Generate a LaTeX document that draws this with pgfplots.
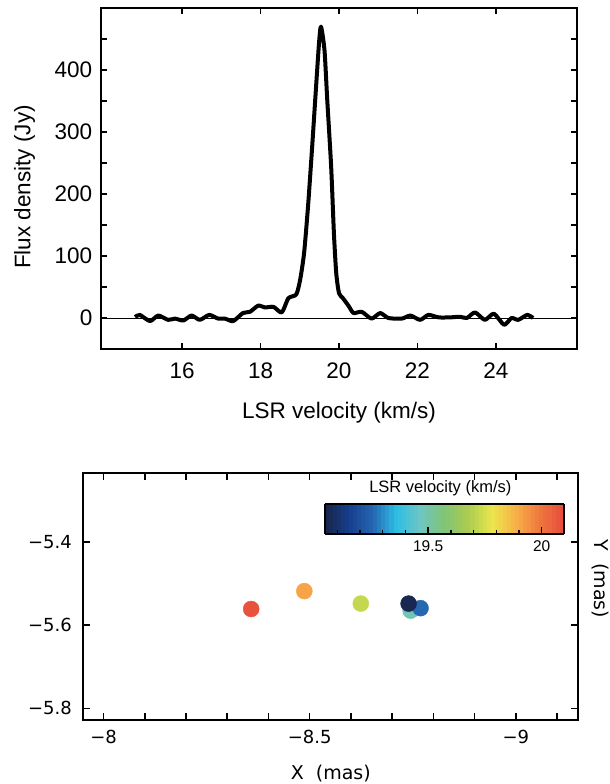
\documentclass[border=0pt]{standalone}
\usepackage{fontspec}
\setmainfont{Liberation Sans}
\newfontfamily\dejavu{DejaVu Sans}
\usepackage{pgfplots}
\pgfplotsset{compat=1.18}

\pgfplotsset{
  /pgf/number format/assume math mode=true,
  colormap={lsr}{rgb255=(24,36,72) rgb255=(22,62,140) rgb255=(36,100,176)
    rgb255=(46,190,230) rgb255=(108,198,196) rgb255=(128,196,120)
    rgb255=(170,204,80) rgb255=(236,230,76) rgb255=(248,176,72)
    rgb255=(240,120,62) rgb255=(232,74,60)},
}

% spectrum: LSR velocity (km/s), flux density (Jy)
\pgfplotstableread{
v f
14.80 1.6
14.92 5
15.18 -5
15.39 4
15.64 -3
15.82 -1
16.03 -4
16.24 4
16.45 -3
16.69 5
16.92 -1
17.09 -1
17.30 -5
17.55 8
17.73 10
17.94 20
18.11 17
18.33 18
18.54 9
18.71 32
18.91 38
19.01 62
19.11 105
19.21 180
19.31 271
19.41 368
19.49 443
19.54 470
19.63 432
19.70 352
19.80 244
19.87 137
19.93 72
20.00 40
20.10 32
20.25 19
20.37 8
20.58 10
20.83 -1
21.05 8
21.26 0
21.60 -1
21.82 4
22.07 -3
22.28 5
22.54 1
22.83 1
23.09 2
23.26 0
23.47 9
23.72 -3
23.95 7
24.21 -11
24.40 0
24.57 -3
24.80 5
24.95 0
}\spectrum

% spots: X (mas), Y (mas), LSR velocity (km/s)
\pgfplotstableread{
x y v
-8.358 -5.561 20.08
-8.487 -5.518 19.91
-8.624 -5.548 19.72
-8.745 -5.565 19.49
-8.769 -5.559 19.26
-8.740 -5.548 19.06
}\spots

\begin{document}
\begin{tikzpicture}
\begin{axis}[
    at={(101pt,-8pt)}, anchor=north west,
    scale only axis, width=476pt, height=341pt,
    xmin=13.93, xmax=26.07, ymin=-50, ymax=500,
    xtick={16,18,20,22,24},
    ytick={0,100,200,300,400},
    minor ytick={50,150,250,350,450},
    tick align=inside,
    major tick length=6pt, minor tick length=6pt,
    every tick/.style={black, line width=1.6pt},
    axis line style={line width=2.2pt},
    tick label style={font=\fontsize{22.5}{26}\selectfont},
    xticklabel style={yshift=-10.2pt},
    yticklabel style={xshift=-5.2pt},
    label style={font=\fontsize{22.5}{26}\selectfont, inner sep=0pt},
    xlabel={LSR velocity (km/s)},
    xlabel style={at={(axis description cs:0.5,-0.154)}, anchor=north},
    ylabel={Flux density (Jy)},
    ylabel style={at={(axis description cs:-0.1828,0.475)}, anchor=north},
  ]
  \addplot[black, line width=1pt] coordinates {(13.93,0) (26.07,0)};
  \addplot[black, line width=4pt, line join=round, smooth, tension=0.4]
    table[x=v, y=f] {\spectrum};
\end{axis}

\begin{axis}[
    at={(83pt,-473pt)}, anchor=north west,
    scale only axis, width=494.6pt, height=247pt,
    x dir=reverse,
    xmin=-9.15, xmax=-7.95, ymin=-5.828, ymax=-5.234,
    xtick={-9,-8.5,-8}, xticklabels={−9,−8.5,−8},
    minor xtick={-9.1,-8.9,-8.8,-8.7,-8.6,-8.4,-8.3,-8.2,-8.1},
    ytick={-5.8,-5.6,-5.4}, yticklabels={−5.8,−5.6,−5.4},
    tick align=inside,
    major tick length=7pt, minor tick length=7pt,
    every tick/.style={black, line width=1.6pt},
    axis line style={line width=2pt},
    tick label style={font=\dejavu\fontsize{18}{21}\selectfont},
    xticklabel style={yshift=-7pt},
    yticklabel style={xshift=-7.7pt},
    label style={font=\dejavu\fontsize{19}{22}\selectfont, inner sep=0pt},
    xlabel={X\ \ (mas)},
    xlabel style={at={(axis description cs:0.501,-0.182)}, anchor=north},
    ylabel={Y\ \ (mas)},
    ylabel style={rotate=180, at={(axis description cs:1.0332,0.571)}, anchor=base},
    colormap name=lsr,
    point meta min=19.045, point meta max=20.098,
    colorbar horizontal,
    colorbar sampled,
    colorbar style={
      at={(0.489,0.8745)}, anchor=north west,
      scale only axis, width=239pt, height=30pt,
      samples=60,
      xtick={19.5,20},
      minor xtick={19.1,19.2,19.3,19.4,19.6,19.7,19.8,19.9},
      xtick pos=left,
      tick align=inside,
      major tick length=7pt, minor tick length=4.5pt,
      every tick/.style={black, line width=1.4pt},
      axis line style={line width=2pt},
      xticklabel style={font=\fontsize{15.5}{18}\selectfont, yshift=-3.5pt},
      title={LSR velocity (km/s)},
      title style={font=\fontsize{16.5}{19}\selectfont, at={(0.5,1)},
        anchor=base, inner sep=0pt, yshift=5.7pt, xshift=-4pt},
    },
  ]
  \addplot[scatter, only marks, mark=*, mark size=8pt, point meta=explicit,
    scatter/use mapped color={draw=mapped color, fill=mapped color}]
    table[x=x, y=y, meta=v] {\spots};
\end{axis}

\pgfresetboundingbox
\path[use as bounding box] (0pt,0pt) rectangle (610pt,-784pt);
\end{tikzpicture}
\end{document}
